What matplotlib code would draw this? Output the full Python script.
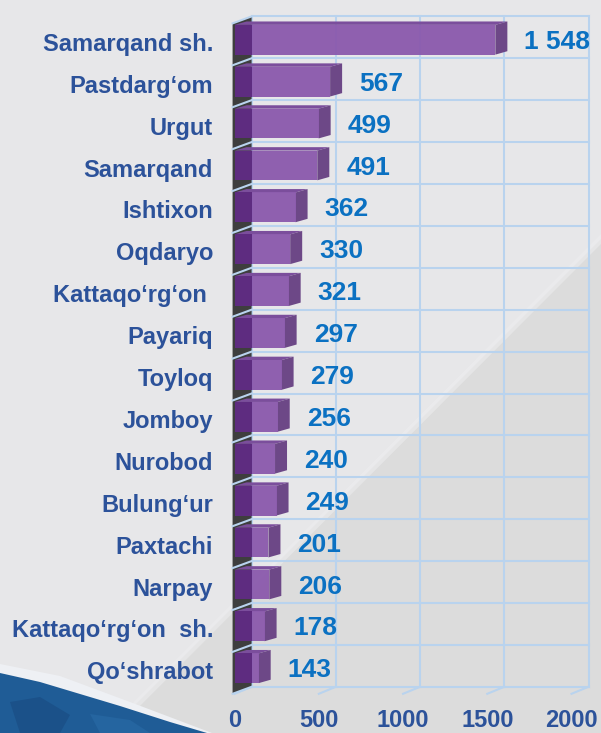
import matplotlib
matplotlib.use("Agg")
import matplotlib.pyplot as plt
from matplotlib.patches import Polygon

plt.rcParams["font.family"] = ["Liberation Sans", "DejaVu Sans"]

# Datos del grafico
districts = ["Samarqand sh.", "Pastdarg‘om", "Urgut", "Samarqand", "Ishtixon",
             "Oqdaryo", "Kattaqo‘rg‘on ", "Payariq", "Toyloq", "Jomboy",
             "Nurobod", "Bulung‘ur", "Paxtachi", "Narpay",
             "Kattaqo‘rg‘on  sh.", "Qo‘shrabot"]
values = [1548, 567, 499, 491, 362, 330, 321, 297, 279, 256, 240, 249, 201,
          206, 178, 143]
value_labels = ["1 548", "567", "499", "491", "362", "330", "321", "297",
                "279", "256", "240", "249", "201", "206", "178", "143"]
x_ticks = [0, 500, 1000, 1500, 2000]

# Colores
bg = "#E7E7E9"
grid_c = "#B9D3EE"
front_c = "#8A58AC"
dark_c = "#5E2C80"
side_c = "#6D4887"
top_c = "#7B4E9C"
wall_c = "#3E3E3E"
label_c = "#2C529A"
value_c = "#0B71C2"

W, H = 601, 733
fig = plt.figure(figsize=(W / 100, H / 100), dpi=100, facecolor=bg)

# Fondo decorativo (coordenadas en pixeles)
bga = fig.add_axes([0, 0, 1, 1])
bga.set_xlim(0, W)
bga.set_ylim(H, 0)
bga.axis("off")
bga.add_patch(Polygon([(601, 239), (601, 733), (107, 733)],
                      closed=True, color="#DCDCDC", lw=0))
bga.add_patch(Polygon([(601, 234), (601, 244), (113, 733), (103, 733)],
                      closed=True, color="#EEEEF0", alpha=0.5, lw=0))
bga.add_patch(Polygon([(0, 664), (60, 676), (130, 702), (212, 733), (0, 733)],
                      closed=True, color="#EEF0F4", lw=0))
bga.add_patch(Polygon([(0, 673), (40, 682), (80, 694), (120, 706),
                       (170, 722), (207, 733), (0, 733)],
                      closed=True, color="#1F5C96", lw=0))
bga.add_patch(Polygon([(10, 702), (40, 697), (70, 715), (60, 733), (20, 733)],
                      closed=True, color="#1B5189", lw=0))
bga.add_patch(Polygon([(90, 714), (130, 720), (150, 733), (100, 733)],
                      closed=True, color="#2565A0", lw=0))

# Ejes principales (plano frontal)
x0_px, x1_px = 234.6, 571.5
top_px, pitch = 23.4, 41.9
bot_px = top_px + 16 * pitch
ax = fig.add_axes([x0_px / W, 1 - bot_px / H,
                   (x1_px - x0_px) / W, (bot_px - top_px) / H])
ax.patch.set_alpha(0)
ax.set_xlim(0, 2000)
ax.set_ylim(16, 0)
for s in ax.spines.values():
    s.set_visible(False)

ux = 2000 / (x1_px - x0_px)     # unidades por pixel en x
uy = 1 / pitch                  # unidades por pixel en y
dxw, dyw = 17 * ux, -7 * uy     # profundidad de la pared
dxb, dyb = 12 * ux, -3.4 * uy   # profundidad de las barras
n = len(values)

# Rejilla de la pared trasera
for t in x_ticks:
    ax.plot([t + dxw, t + dxw], [dyw, n + dyw], color=grid_c, lw=1.5,
            clip_on=False, zorder=1)
    ax.plot([t, t + dxw], [n, n + dyw], color=grid_c, lw=1.5,
            clip_on=False, zorder=1)
for k in range(n + 1):
    ax.plot([dxw, 2000 + dxw], [k + dyw, k + dyw], color=grid_c, lw=1.5,
            clip_on=False, zorder=1)

# Pared izquierda
ax.add_patch(Polygon([(-12, 0), (dxw, dyw), (dxw, n + dyw), (-12, n)],
                     closed=True, color=wall_c, lw=0, zorder=2, clip_on=False))
for k in range(n + 1):
    ax.plot([-12, dxw], [k, k + dyw], color=grid_c, lw=1.5,
            clip_on=False, zorder=2)

# Barras 3D
b_top, b_bot = 0.035, 0.745
for i, v in enumerate(values):
    y0, y1 = i + b_top, i + b_bot
    ax.add_patch(Polygon([(0, y0), (v, y0), (v + dxb, y0 + dyb),
                          (dxb, y0 + dyb)], closed=True, color=top_c,
                         lw=0, zorder=3, clip_on=False))
    ax.add_patch(Polygon([(v, y0), (v + dxb, y0 + dyb), (v + dxb, y1 + dyb),
                          (v, y1)], closed=True, color=side_c, lw=0,
                         zorder=3, clip_on=False))
    ax.barh(i + (b_top + b_bot) / 2, v, height=b_bot - b_top, color=front_c,
            alpha=0.94, lw=0, zorder=4)
    ax.barh(i + (b_top + b_bot) / 2, dxw, height=b_bot - b_top,
            color=dark_c, lw=0, zorder=5)
    ax.text(v + dxb + 17 * ux, i + 0.44, value_labels[i], ha="left",
            va="center", fontsize=19, fontweight="bold", color=value_c,
            zorder=6, clip_on=False)

# Etiquetas de los ejes
ax.set_yticks([i + 0.44 for i in range(n)])
ax.set_yticklabels(districts, fontsize=17, fontweight="bold", color=label_c)
ax.set_xticks(x_ticks)
ax.set_xticklabels([str(t) for t in x_ticks], fontsize=17, fontweight="bold",
                   color=label_c)
ax.tick_params(axis="y", length=0, pad=15.5)
ax.tick_params(axis="x", length=0, pad=11)

fig.savefig("out.png", dpi=100, facecolor=bg)
